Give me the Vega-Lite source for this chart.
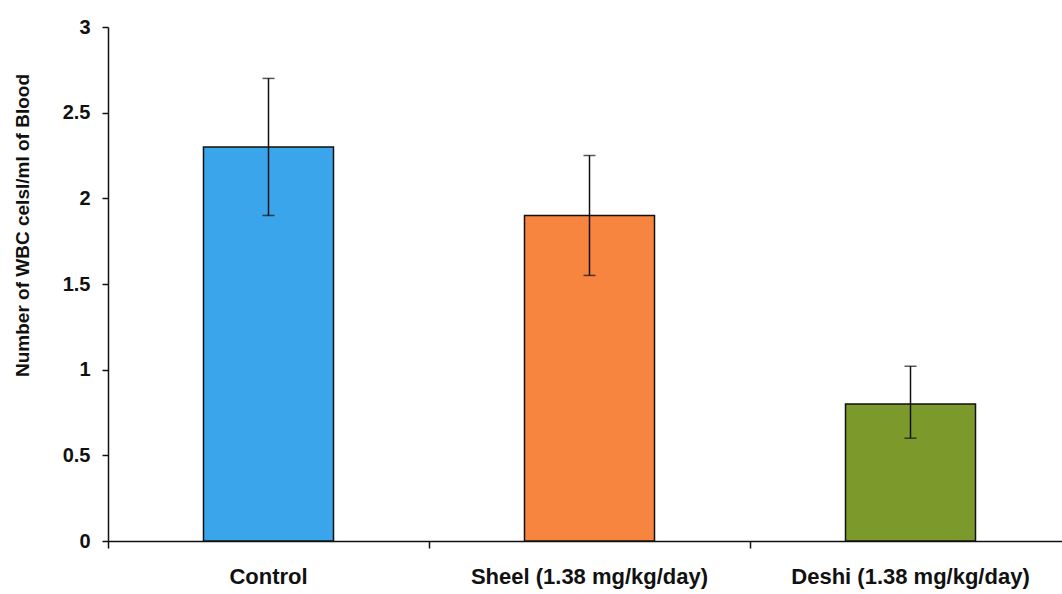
{
  "$schema": "https://vega.github.io/schema/vega-lite/v6.json",
  "autosize": "none",
  "width": 963,
  "height": 514,
  "padding": {"left": 108, "top": 27, "right": 0, "bottom": 53},
  "background": "white",
  "config": {"view": {"stroke": null}, "font": "Liberation Sans"},
  "data": {"values": [
    {"group": "Control", "mean": 2.3, "lo": 1.9, "hi": 2.7},
    {"group": "Sheel (1.38  mg/kg/day)", "mean": 1.9, "lo": 1.55, "hi": 2.25},
    {"group": "Deshi (1.38  mg/kg/day)", "mean": 0.8, "lo": 0.6, "hi": 1.02}
  ]},
  "encoding": {
    "x": {
      "field": "group", "type": "nominal", "sort": null,
      "scale": {"paddingInner": 0, "paddingOuter": 0},
      "axis": {
        "title": null, "labelAngle": 0, "bandPosition": 0, "labelOffset": 0, "labelLimit": 400,
        "tickSize": 7, "tickColor": "#111", "tickWidth": 1.5,
        "domainColor": "#111", "domainWidth": 1.5,
        "labelFont": "Liberation Sans", "labelFontWeight": "bold",
        "labelFontSize": 22, "labelColor": "#111", "labelPadding": 18
      }
    }
  },
  "layer": [
    {
      "mark": {"type": "bar", "width": {"band": 0.405}, "stroke": "#111", "strokeWidth": 1.5},
      "encoding": {
        "y": {
          "field": "mean", "type": "quantitative",
          "scale": {"domain": [0, 3], "nice": false},
          "axis": {
            "title": "Number of WBC celsl/ml of Blood",
            "titleFont": "Liberation Sans", "titleFontWeight": "bold", "titleFontSize": 19,
            "titleColor": "#111", "titleX": -86, "titleY": 198, "titleBaseline": "middle",
            "values": [0, 0.5, 1, 1.5, 2, 2.5, 3], "format": ".1~f",
            "grid": false, "tickSize": 6, "tickColor": "#111", "tickWidth": 1.5,
            "domainColor": "#111", "domainWidth": 1.5,
            "labelFontSize": 20, "labelFontWeight": "bold", "labelColor": "#111", "labelPadding": 12
          }
        },
        "color": {
          "field": "group", "type": "nominal", "legend": null, "sort": null,
          "scale": {"range": ["#3aa5ea", "#f7843f", "#7b9a2b"]}
        }
      }
    },
    {
      "mark": {"type": "rule", "color": "#111", "strokeWidth": 1.5},
      "encoding": {
        "y": {"field": "lo", "type": "quantitative"},
        "y2": {"field": "hi"}
      }
    },
    {
      "mark": {"type": "tick", "color": "#111", "size": 12, "thickness": 1.5, "orient": "horizontal"},
      "encoding": {"y": {"field": "lo", "type": "quantitative"}}
    },
    {
      "mark": {"type": "tick", "color": "#111", "size": 12, "thickness": 1.5, "orient": "horizontal"},
      "encoding": {"y": {"field": "hi", "type": "quantitative"}}
    }
  ]
}
